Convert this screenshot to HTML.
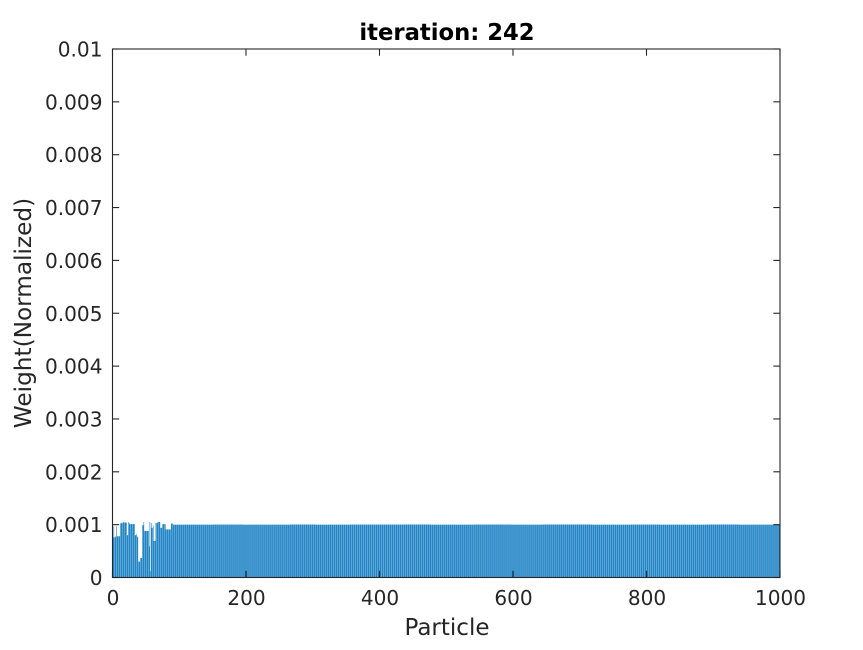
<!DOCTYPE html>
<html>
<head>
<meta charset="utf-8">
<title>iteration: 242</title>
<style>
html,body{margin:0;padding:0;background:#fff;}
svg{display:block;}
text{font-family:"DejaVu Sans","Liberation Sans",sans-serif;fill:#262626;}
</style>
</head>
<body>
<svg id="chart" xmlns="http://www.w3.org/2000/svg" width="863" height="650" viewBox="0 0 863 650">
<rect x="112.5" y="49" width="667.5" height="528.5" fill="#fff"/>
<g id="bars"></g>
<g id="ticks"></g>
<rect x="112.5" y="49" width="667.5" height="528.5" fill="none" stroke="#262626" stroke-width="1.1"/>
<g id="labels"></g>
<text x="447" y="40" text-anchor="middle" font-size="22.7" font-weight="700" style="fill:#000">iteration: 242</text>
<text x="447" y="635" text-anchor="middle" font-size="23">Particle</text>
<text transform="translate(31 313) rotate(-90)" text-anchor="middle" font-size="23.2">Weight(Normalized)</text>
</svg>
<script>
const weightUnit = 0.001;
const headWeights = [
.76,.97,.76,.76,.78,.97,.78,.78,.78,.78,.78,
1.03,1.02,1.04,1.03,1.04,1.05,1.04,1.03,1.05,1.04,
.8,.8,1.05,1.03,1.01,1.01,1.01,1.01,1.01,1.01,1.01,1.01,
.8,.8,.82,.78,.76,.3,.3,.3,.37,.37,.37,.99,.99,1.05,
.88,.88,.88,.88,.88,.88,.88,.59,1.05,.12,1.03,.94,.94,.97,
.69,.69,.69,1.03,1.03,1.03,1.05,1.05,1.05,1.05,.94,.94,.94,
1.01,1.01,1.01,1.01,1.01,.91,.91,.91,.91,.91,.91,.91,.91,1.02,1.02,1.02
];
const tailRunWeights = [1, 1.002, 1, 1.003, 1, 1.002, 1.003, 1, 1.002, 1, 1.003, 1, 1.002, 1, 1.003, 1];
const tailRunLengths = [60, 45, 70, 38, 52, 80, 41, 66, 55, 47, 73, 59, 44, 68, 50, 62];
const xTicks = [0, 200, 400, 600, 800, 1000];
const yTicks = [0, 0.001, 0.002, 0.003, 0.004, 0.005, 0.006, 0.007, 0.008, 0.009, 0.01];
const yTickLabels = ["0", "0.001", "0.002", "0.003", "0.004", "0.005", "0.006", "0.007", "0.008", "0.009", "0.01"];

const NS = "http://www.w3.org/2000/svg";
const left = 112.5, right = 780, top_ = 49, bottom = 577.5;
const xMax = 1000, yMax = 0.01, barFrac = 0.8, tickLen = 6.7;
const xScale = v => left + (v / xMax) * (right - left);
const yScale = v => bottom - (v / yMax) * (bottom - top_);

const barsG = document.getElementById("bars");
const ticksG = document.getElementById("ticks");
const labelsG = document.getElementById("labels");

const weights = headWeights.slice();
tailRunWeights.forEach((w, i) => {
  for (let n = 0; n < tailRunLengths[i]; n++) weights.push(w);
});

weights.forEach((w, i) => {
  const p = i + 1;
  const val = w * weightUnit;
  const bw = xScale(barFrac) - xScale(0);
  const r = document.createElementNS(NS, "rect");
  
  
  r.setAttribute("x", xScale(p) - bw / 2);
  r.setAttribute("y", yScale(val));
  r.setAttribute("width", bw);
  r.setAttribute("height", bottom - yScale(val));
  r.setAttribute("fill", "#0072BD");
  barsG.appendChild(r);
});

function tick(x1, y1, x2, y2) {
  const l = document.createElementNS(NS, "line");
  
  
  l.setAttribute("x1", x1);
  l.setAttribute("y1", y1);
  l.setAttribute("x2", x2);
  l.setAttribute("y2", y2);
  l.setAttribute("stroke", "#262626");
  l.setAttribute("stroke-width", "1.1");
  ticksG.appendChild(l);
}

function label(x, y, anchor, str) {
  const t = document.createElementNS(NS, "text");
  
  
  t.setAttribute("x", x);
  t.setAttribute("y", y);
  t.setAttribute("text-anchor", anchor);
  t.setAttribute("font-size", "20.1");
  t.textContent = str;
  labelsG.appendChild(t);
}

xTicks.forEach(v => {
  const x = xScale(v);
  tick(x, bottom, x, bottom - tickLen);
  tick(x, top_, x, top_ + tickLen);
  label(x + 0.5, 605, "middle", String(v));
});

yTicks.forEach((v, i) => {
  const y = yScale(v);
  tick(left, y, left + tickLen, y);
  tick(right, y, right - tickLen, y);
  label(102.5, y + 7.5, "end", yTickLabels[i]);
});
</script>
</body>
</html>
